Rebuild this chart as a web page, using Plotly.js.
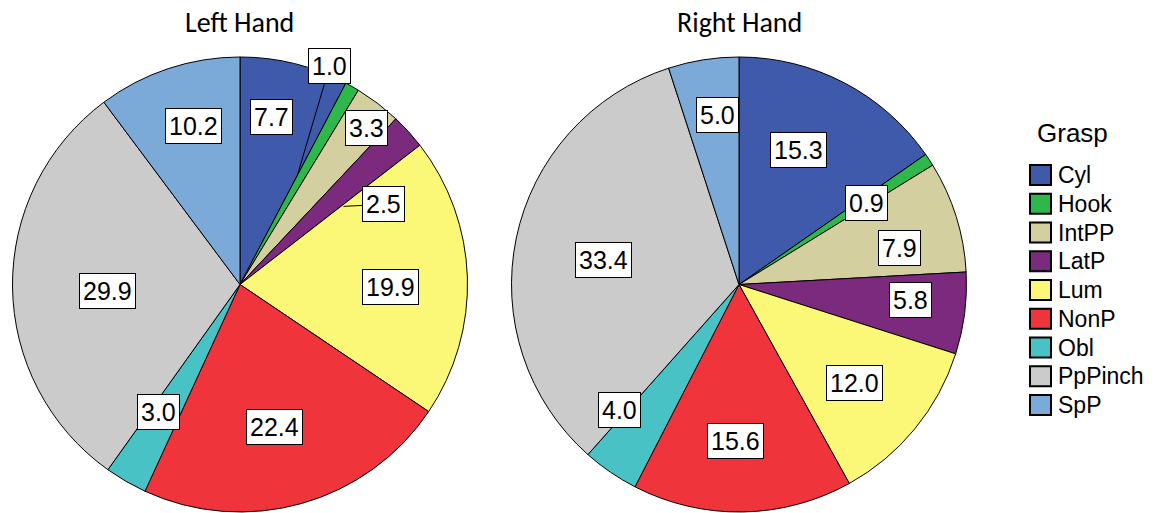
<!DOCTYPE html>
<html><head><meta charset="utf-8">
<script src="https://cdn.plot.ly/plotly-3.0.1.min.js"></script>
<style>html,body{margin:0;padding:0;background:#fff}</style>
</head><body><div id="chart" style="width:1158px;height:513px"></div>
<script>
// ---- data ----
const grasps = ["Cyl","Hook","IntPP","LatP","Lum","NonP","Obl","PpPinch","SpP"];
const leftValues = [7.7, 1.0, 3.3, 2.5, 19.9, 22.4, 3.0, 29.9, 10.2];
const rightValues = [15.3, 0.9, 7.9, 5.8, 12.0, 15.6, 4.0, 33.4, 5.0];
const pieTitles = ["Left Hand", "Right Hand"];
const legendTitle = "Grasp";

// ---- style ----
const colors = ["#3F59AB","#2EB84C","#D4CF9E","#7B2A7D","#FBF777","#EF343C","#48C2C4","#CBCBCB","#7BAAD8"];
const W = 1158, H = 513, R = 227.5;
const domains = [
  {x:[12.5/W, 467.5/W], y:[1/H, 456/H]},
  {x:[511.5/W, 966.5/W], y:[1/H, 456/H]}
];
// label placement (radius fraction, angle offset deg, optional leader offset px)
const labelR = [
  [0.749, 0.55, 0.884, 0.57, 0.66, 0.645, 0.666, 0.585, 0.725],
  [0.646, 0.664, 0.725, 0.755, 0.668, 0.688, 0.76, 0.607, 0.752]
];
const labelDA = [
  [-3.1, -2, 1.5, 5.2, 2.8, 1.9, 2.6, -2.2, 1.9],
  [-3.6, 0.5, 4.6, -2.1, 0.9, 2.0, 9.1, -1.6, 1.9]
];
const leaders = [
  [null, [32,-108], null, [40,-2], null, null, null, null, null],
  [null, null, null, null, null, null, null, null, null]
];

const allValues = [leftValues, rightValues];
const traces = allValues.map((vals, i) => ({
  type: 'pie',
  values: vals,
  labels: grasps,
  sort: false,
  direction: 'clockwise',
  rotation: 0,
  textinfo: 'none',
  hoverinfo: 'label+value',
  marker: {colors: colors, line: {color: '#000', width: 1}},
  domain: domains[i],
  showlegend: false
}));

const annotations = [];
const shapes = [];
const labelFont = {family: 'Liberation Sans, Arial, sans-serif', size: 25, color: '#000'};

allValues.forEach((vals, i) => {
  const d = domains[i];
  const cx = (d.x[0] + d.x[1]) / 2 * W;
  const cy = (1 - (d.y[0] + d.y[1]) / 2) * H;
  const total = vals.reduce((a, b) => a + b, 0);
  let cum = 0;
  vals.forEach((v, j) => {
    const mid = (cum + v / 2) / total * 360 + labelDA[i][j];
    cum += v;
    const a = mid * Math.PI / 180;
    const px = cx + labelR[i][j] * R * Math.sin(a);
    const py = cy - labelR[i][j] * R * Math.cos(a);
    const ann = {
      x: px / W, y: 1 - py / H, xref: 'paper', yref: 'paper',
      xanchor: 'center', yanchor: 'middle',
      text: v.toFixed(1), font: labelFont,
      bgcolor: '#fff', bordercolor: '#000', borderwidth: 1, borderpad: 3,
      showarrow: false
    };
    const ld = leaders[i][j];
    if (ld) {
      ann.showarrow = true;
      ann.arrowhead = 0;
      ann.arrowwidth = 1;
      ann.arrowcolor = '#000';
      ann.standoff = 0;
      ann.ax = ld[0];
      ann.ay = ld[1];
    }
    annotations.push(ann);
  });
  annotations.push({
    x: cx / W, y: 1 - 23 / H, xref: 'paper', yref: 'paper',
    text: pieTitles[i], showarrow: false,
    font: {family: 'Carlito, Lato, sans-serif', size: 28, color: '#000'},
    xanchor: 'center', yanchor: 'middle'
  });
});

// legend (custom, larger swatches)
annotations.push({
  x: 1072 / W, y: 1 - 133 / H, xref: 'paper', yref: 'paper',
  text: legendTitle, showarrow: false,
  font: {family: 'Liberation Sans, Arial, sans-serif', size: 26, color: '#000'},
  xanchor: 'center', yanchor: 'middle'
});
grasps.forEach((g, j) => {
  const yc = 175 + j * 28.75;
  shapes.push({
    type: 'rect', xref: 'paper', yref: 'paper',
    x0: 1030 / W, x1: 1051 / W, y0: 1 - (yc - 10) / H, y1: 1 - (yc + 10) / H,
    fillcolor: colors[j], line: {color: '#000', width: 2}
  });
  annotations.push({
    x: 1056 / W, y: 1 - yc / H, xref: 'paper', yref: 'paper',
    text: g, showarrow: false, xanchor: 'left', yanchor: 'middle',
    font: {family: 'Liberation Sans, Arial, sans-serif', size: 23, color: '#000'}
  });
});

const layout = {
  width: W, height: H,
  margin: {l: 0, r: 0, t: 0, b: 0},
  paper_bgcolor: '#fff', plot_bgcolor: '#fff',
  showlegend: false,
  annotations: annotations,
  shapes: shapes
};
Plotly.newPlot('chart', traces, layout, {displayModeBar: false, staticPlot: true});
</script>
</body></html>
